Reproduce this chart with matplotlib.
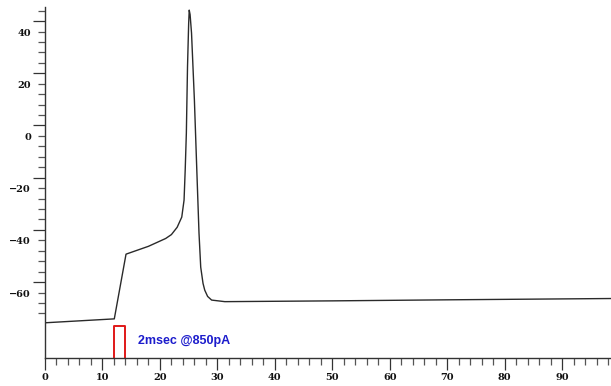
import matplotlib
matplotlib.use("Agg")
import numpy as np
import matplotlib.pyplot as plt
import matplotlib.transforms as mtransforms
from matplotlib.ticker import FixedLocator, MultipleLocator

# membrane potential trace (ms, mV)
t_ms = [0, 12.06, 14.1, 18, 21, 22, 23, 23.8, 24.2, 24.4, 24.6, 24.8, 25.0, 25.1,
        25.25, 25.5, 26.0, 26.4, 26.8, 27.1, 27.5, 27.8, 28.3, 29.0, 31.3,
        50, 70, 98.5]
v_mv = [-75.6, -74.1, -49.3, -46.3, -43.3, -41.8, -39.0, -35.1, -28.6, -17.0, -2.9, 22.4, 39.0, 44.2,
        42.5, 35.4, 9.7, -15.9, -41.2, -54.3, -60.5, -63.1, -65.5, -66.9, -67.5,
        -67.2, -66.8, -66.3]

# stimulus pulse marker
stim_t = [12, 12, 14, 14]
stim_v = [-88.9, -77, -77, -88.9]
stim_label = "2msec @850pA"

x_lim = (0, 98.5)
y_lim = (-88.9, 45.4)
y_major = [-60, -40, -20, 0, 20, 40]
y_minor = list(np.arange(-72, 45, 4))

fig = plt.figure(figsize=(6.11, 3.86), dpi=100)
ax = fig.add_axes([45 / 611, 1 - 357.5 / 386, 1 - 45 / 611, (357.5 - 7) / 386])

ax.plot(t_ms, v_mv, color="#2a2a2a", lw=1.0)
ax.plot(stim_t, stim_v, color="#e01818", lw=1.4, clip_on=False)
ax.text(16.1, -82.5, stim_label, color="#1c1ccc", fontsize=9,
        fontweight="bold", family="Liberation Sans", va="center", ha="left")

ax.set_xlim(*x_lim)
ax.set_ylim(*y_lim)

for s in ["top", "right"]:
    ax.spines[s].set_visible(False)
for s in ["left", "bottom"]:
    ax.spines[s].set_color("#333333")
    ax.spines[s].set_linewidth(1.0)

ax.xaxis.set_major_locator(MultipleLocator(10))
ax.xaxis.set_minor_locator(MultipleLocator(2))
ax.yaxis.set_major_locator(FixedLocator(y_major))
ax.yaxis.set_minor_locator(FixedLocator([v for v in y_minor if v not in y_major]))

ax.tick_params(which="major", length=8.6, width=0.9, color="#333333")
ax.tick_params(which="minor", length=4.8, width=0.9, color="#555555")
ax.tick_params(axis="x", which="major", pad=2.5)
ax.tick_params(axis="y", which="major", pad=1.5)

for lab in ax.get_xticklabels() + ax.get_yticklabels():
    lab.set_family("DejaVu Serif")
    lab.set_fontweight("bold")
    lab.set_fontsize(7)
    lab.set_color("#111111")

# y labels sit a bit below their ticks in the original
shift = mtransforms.ScaledTranslation(0, -11 / 100, fig.dpi_scale_trans)
for lab in ax.get_yticklabels():
    lab.set_transform(lab.get_transform() + shift)

fig.savefig("out.png", dpi=100)
